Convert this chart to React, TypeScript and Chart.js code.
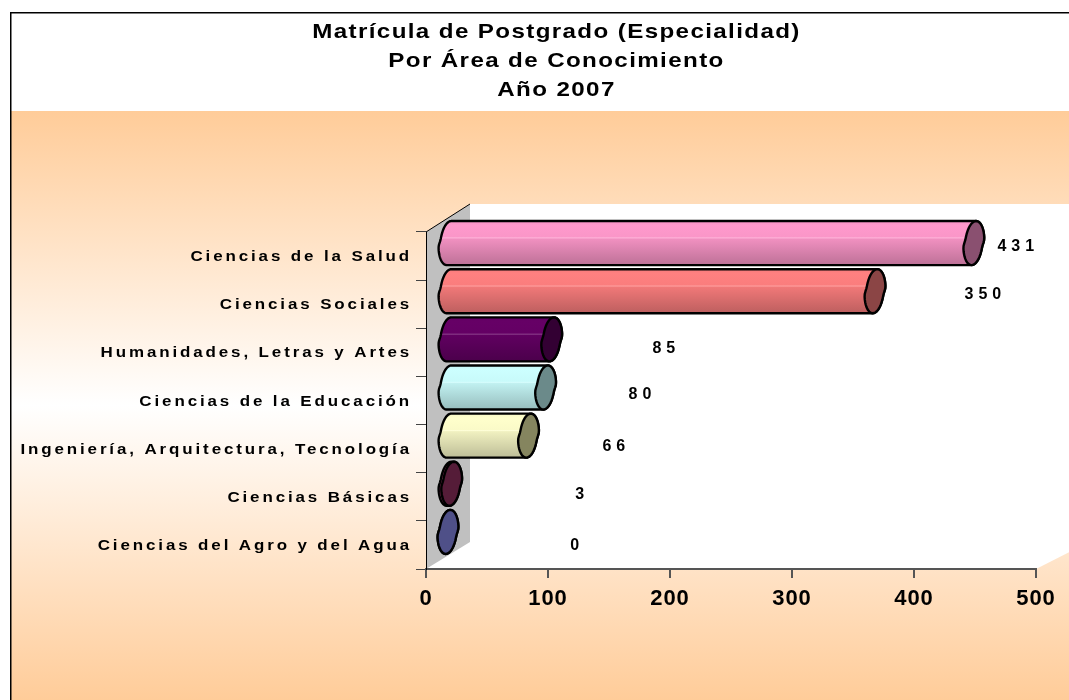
import { useEffect, useRef } from "react";
import { Chart, registerables } from "chart.js";

Chart.register(...registerables);

const titleLines = ["Matrícula de Postgrado (Especialidad)", "Por Área de Conocimiento", "Año 2007"];
const categories = [
  "Ciencias de la Salud",
  "Ciencias Sociales",
  "Humanidades, Letras y Artes",
  "Ciencias de la Educación",
  "Ingeniería, Arquitectura, Tecnología",
  "Ciencias Básicas",
  "Ciencias del Agro y del Agua",
];
const values = [431, 350, 85, 80, 66, 3, 0];
const bodyColors = ["#FF99CC", "#FF8080", "#660066", "#CCFFFF", "#FFFFCC", "#993366", "#666699"];
const capColors = ["#8A5070", "#8B4545", "#330033", "#6B8A8A", "#85855F", "#551C38", "#4F5088"];
// where each value label sits, in axis units and pixels from the category centre
const labelAxisPositions = [485.5, 458.5, 197, 177.4, 156, 128, 124];
const labelShifts = [-9, -10, -4, -6, -2, -2, 1];

const FONT = '"Liberation Sans", Arial, sans-serif';
const DEPTH_X = 44;
const DEPTH_Y = 27;
const BAR_DX = 22;
const BAR_DY = -13;

function shade(hex: string, f: number) {
  const n = parseInt(hex.slice(1), 16);
  const mix = (c: number) => {
    const v = f <= 1 ? c * f : c + (255 - c) * (f - 1);
    return Math.round(Math.min(255, v));
  };
  return `rgb(${mix((n >> 16) & 255)},${mix((n >> 8) & 255)},${mix(n & 255)})`;
}

// outline of a slanted cylinder end, with the soft step at mid-height seen in the reference
function capX(cx: number, rx: number, t: number) {
  const s = Math.sin(t);
  return cx + rx * Math.cos(t) - 1.4 * s - 0.9 * Math.tanh(7 * s);
}
function traceCap(
  ctx: CanvasRenderingContext2D,
  cx: number,
  mid: number,
  rx: number,
  ry: number,
  from: number,
  to: number,
  start: boolean
) {
  const steps = 48;
  for (let k = 0; k <= steps; k++) {
    const t = from + ((to - from) * k) / steps;
    const px = capX(cx, rx, t);
    const py = mid + ry * Math.sin(t);
    if (k === 0 && start) ctx.moveTo(px, py);
    else ctx.lineTo(px, py);
  }
}

const scenePlugin = {
  id: "scene",
  beforeDraw(chart: any) {
    const { ctx, width, height } = chart;
    if (!chart.$wrapped) {
      chart.$wrapped = true;
      const y = chart.scales.y;
      const x = chart.scales.x;
      const yDraw = y.drawLabels;
      y.drawLabels = function (a: any) {
        const pivot = y.right - 14;
        ctx.save();
        ctx.translate(pivot, 1);
        ctx.scale(1.13, 1);
        ctx.translate(-pivot, 0);
        (ctx as any).letterSpacing = "2.55px";
        yDraw.call(this, a);
        ctx.restore();
      };
      const xDraw = x.drawLabels;
      x.drawLabels = function (a: any) {
        ctx.save();
        (ctx as any).letterSpacing = "1px";
        xDraw.call(this, a);
        ctx.restore();
      };
      const title = chart.titleBlock;
      const tDraw = title.draw;
      title.draw = function () {
        const c = (title.left + title.right) / 2;
        ctx.save();
        ctx.translate(556.5, 0);
        ctx.scale(1.15, 1);
        ctx.translate(-c, 0);
        (ctx as any).letterSpacing = "1.2px";
        tDraw.call(this);
        ctx.restore();
      };
    }
    ctx.save();
    ctx.fillStyle = "#ffffff";
    ctx.fillRect(0, 0, width, height);
    const g = ctx.createLinearGradient(0, 111, 0, 700);
    g.addColorStop(0, "#FFCC99");
    g.addColorStop(0.5, "#FFFFFF");
    g.addColorStop(1, "#FFCC99");
    ctx.fillStyle = g;
    ctx.fillRect(11, 111, width - 11, height - 111);
    ctx.fillStyle = "#000000";
    ctx.fillRect(10, 12, width - 10, 1.5);
    ctx.fillRect(10, 12, 1.5, height - 12);

    const { left, right, top, bottom } = chart.chartArea;
    ctx.fillStyle = "#ffffff";
    ctx.beginPath();
    ctx.moveTo(left + DEPTH_X, top - DEPTH_Y - 1);
    ctx.lineTo(width + 20, top - DEPTH_Y - 1);
    ctx.lineTo(width + 20, bottom - DEPTH_Y);
    ctx.lineTo(right, bottom);
    ctx.lineTo(left, bottom);
    ctx.closePath();
    ctx.fill();
    ctx.fillStyle = "#C0C0C0";
    ctx.beginPath();
    ctx.moveTo(left, top);
    ctx.lineTo(left + DEPTH_X, top - DEPTH_Y - 1);
    ctx.lineTo(left + DEPTH_X, bottom - DEPTH_Y);
    ctx.lineTo(left, bottom);
    ctx.closePath();
    ctx.fill();
    ctx.strokeStyle = "#000000";
    ctx.lineWidth = 1;
    ctx.beginPath();
    ctx.moveTo(left, top);
    ctx.lineTo(left + DEPTH_X, top - DEPTH_Y - 1);
    ctx.stroke();
    ctx.restore();
  },
  beforeDatasetsDraw(chart: any) {
    chart.ctx.save();
    chart.ctx.translate(BAR_DX, BAR_DY);
  },
  afterDatasetsDraw(chart: any) {
    const { ctx } = chart;
    ctx.restore();
    const meta = chart.getDatasetMeta(0);
    const xs = chart.scales.x;
    const ys = chart.scales.y;
    meta.data.forEach((el: any, i: number) => {
      const p = el.getProps(["x", "y", "base", "height"], true);
      const top = p.y + BAR_DY - p.height / 2;
      const bot = p.y + BAR_DY + p.height / 2;
      const mid = (top + bot) / 2;
      const ry = (bot - top) / 2;
      const x0 = p.base + BAR_DX;
      const x1 = p.x + BAR_DX;
      const rx = 9.5;
      const c = bodyColors[i];
      const g = ctx.createLinearGradient(0, top, 0, bot);
      g.addColorStop(0, shade(c, 0.97));
      g.addColorStop(0.1, shade(c, 1));
      g.addColorStop(0.36, shade(c, 0.98));
      g.addColorStop(0.38, shade(c, 1.25));
      g.addColorStop(0.41, shade(c, 0.94));
      g.addColorStop(1, shade(c, 0.74));
      ctx.save();
      ctx.beginPath();
      traceCap(ctx, x0, mid, rx, ry, Math.PI / 2, Math.PI * 1.5, true);
      traceCap(ctx, x1, mid, rx, ry, -Math.PI / 2, Math.PI / 2, false);
      ctx.closePath();
      ctx.fillStyle = g;
      ctx.fill();
      ctx.strokeStyle = "#000000";
      ctx.lineWidth = 2.4;
      ctx.lineJoin = "round";
      ctx.stroke();
      ctx.beginPath();
      traceCap(ctx, x1, mid, rx, ry, 0, Math.PI * 2, true);
      ctx.closePath();
      ctx.fillStyle = capColors[i];
      ctx.fill();
      ctx.stroke();
      ctx.restore();

      ctx.save();
      ctx.font = `bold 16px ${FONT}`;
      (ctx as any).letterSpacing = "5px";
      ctx.fillStyle = "#000000";
      ctx.textAlign = "center";
      ctx.textBaseline = "middle";
      ctx.fillText(
        String(values[i]),
        xs.getPixelForValue(labelAxisPositions[i]),
        ys.getPixelForValue(i) + labelShifts[i]
      );
      ctx.restore();
    });
  },
};

export default function App() {
  const ref = useRef<HTMLCanvasElement>(null);
  useEffect(() => {
    const chart = new Chart(ref.current!, {
      type: "bar",
      plugins: [scenePlugin],
      data: {
        labels: categories,
        datasets: [
          {
            data: values,
            backgroundColor: bodyColors,
            barPercentage: 0.915,
            categoryPercentage: 1,
            clip: false,
          } as any,
        ],
      },
      options: {
        indexAxis: "y",
        responsive: false,
        animation: false,
        layout: { padding: { left: 0, top: 0, bottom: 0, right: 33 } },
        plugins: {
          legend: { display: false },
          tooltip: { enabled: false },
          title: {
            display: true,
            text: titleLines,
            color: "#000000",
            font: { family: FONT, size: 21, weight: "bold", lineHeight: 29 / 21 },
            padding: { top: 18, bottom: 127 },
          },
        },
        scales: {
          x: {
            type: "linear",
            min: 0,
            max: 500,
            afterFit: (s: any) => {
              s.height = 131;
            },
            border: { color: "#555555", width: 2 },
            grid: { drawOnChartArea: false, color: "#555555", lineWidth: 2, tickLength: 9, drawTicks: true },
            ticks: {
              stepSize: 100,
              color: "#000000",
              padding: 8,
              maxRotation: 0,
              font: { family: FONT, size: 22, weight: "bold" },
            },
          },
          y: {
            type: "category",
            afterFit: (s: any) => {
              s.width = 426;
            },
            border: { color: "#000000", width: 1 },
            grid: {
              offset: true,
              drawOnChartArea: false,
              color: "#444444",
              lineWidth: (c: any) => (c.index === categories.length ? 2 : 1),
              tickLength: 10,
            },
            ticks: {
              color: "#000000",
              padding: 4,
              autoSkip: false,
              font: { family: FONT, size: 15, weight: "bold" },
            },
          },
        },
      } as any,
    });
    return () => chart.destroy();
  }, []);
  return (
    <canvas
      ref={ref}
      width={1069}
      height={700}
      style={{ position: "absolute", left: 0, top: 0, display: "block" }}
    />
  );
}
